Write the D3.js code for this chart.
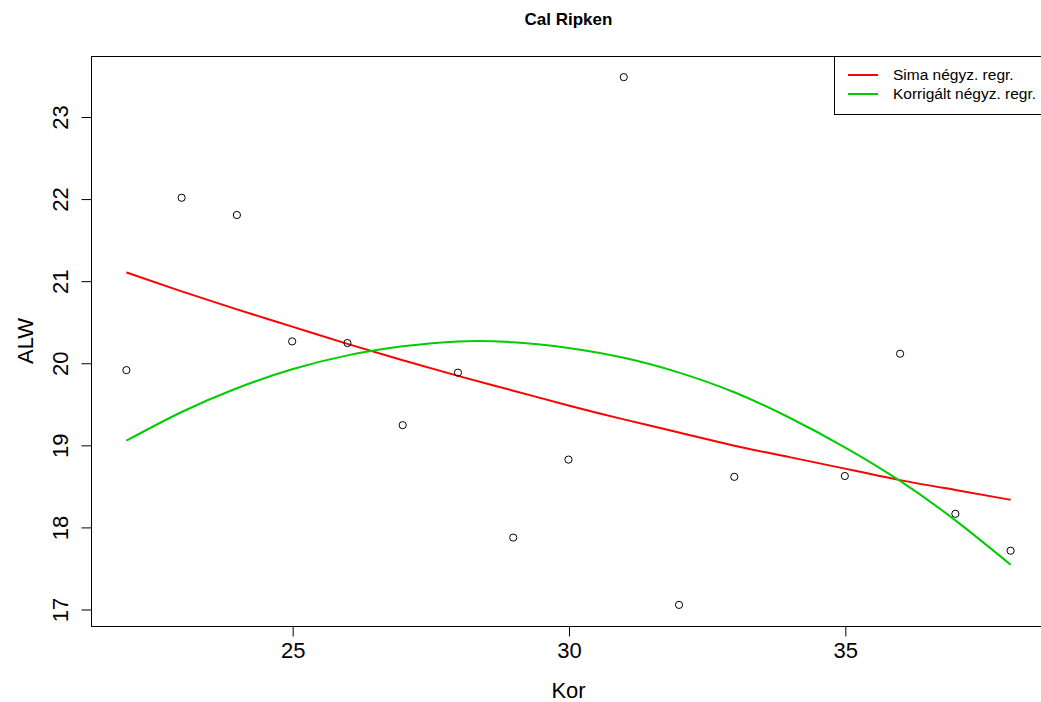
<!DOCTYPE html>
<html>
<head>
<meta charset="utf-8">
<script src="https://cdn.jsdelivr.net/npm/d3@7"></script>
<style>
  body { margin: 0; background: #fff; }
  text { font-family: "Liberation Sans", Arial, sans-serif; fill: #000; }
</style>
</head>
<body>
<div id="chart"></div>
<script>
// observed ages and ALW values
const ages = [22, 23, 24, 25, 26, 27, 28, 29, 30, 31, 32, 33, 35, 36, 37, 38];
const alw = [19.91, 22.01, 21.80, 20.26, 20.24, 19.24, 19.88, 17.87, 18.82, 23.48, 17.05, 18.61, 18.62, 20.11, 18.16, 17.71];

// fitted curves, read at each age
const fitAges = [22, 23, 24, 25, 26, 27, 28, 29, 30, 31, 32, 33, 34, 35, 36, 37, 38];
const simpleFit = [21.10, 20.87, 20.65, 20.44, 20.23, 20.03, 19.84, 19.66, 19.48, 19.31, 19.15, 18.99, 18.85, 18.71, 18.57, 18.45, 18.33];
const correctedFit = [19.05, 19.40, 19.69, 19.92, 20.09, 20.20, 20.26, 20.25, 20.18, 20.06, 19.88, 19.64, 19.33, 18.97, 18.56, 18.08, 17.54];

const xTicks = [25, 30, 35];
const yTicks = [17, 18, 19, 20, 21, 22, 23];
const legendLabels = ["Sima négyz. regr.", "Korrigált négyz. regr."];
const legendColors = ["#ff0000", "#00cd00"];

const width = 1041, height = 702;
const margin = {top: 56, left: 91, bottom: 76, right: -5};

const svg = d3.select('#chart').append('svg')
    .attr('width', width)
    .attr('height', height);

// R style 4% padding on each side
const pad = ext => {
  const d = (ext[1] - ext[0]) * 0.04;
  return [ext[0] - d, ext[1] + d];
};

const x = d3.scaleLinear()
    .domain(pad(d3.extent(ages)))
    .range([margin.left, width - margin.right]);
const y = d3.scaleLinear()
    .domain(pad(d3.extent(alw)))
    .range([height - margin.bottom, margin.top]);

// box
svg.append('rect')
    .attr('x', margin.left + 0.5)
    .attr('y', margin.top + 0.5)
    .attr('width', width - margin.right - margin.left)
    .attr('height', height - margin.bottom - margin.top)
    .attr('fill', 'none')
    .attr('stroke', '#000')
    .attr('stroke-width', 1);

// x axis
const xAxis = svg.append('g')
    .attr('transform', `translate(0.5,${height - margin.bottom + 0.5})`)
    .call(d3.axisBottom(x).tickValues(xTicks).tickSize(10).tickPadding(6).tickSizeOuter(0));
xAxis.select('.domain').remove();
xAxis.selectAll('text')
    .style('font-family', '"Liberation Sans", Arial, sans-serif')
    .style('font-size', '22px');

// y axis
const yAxis = svg.append('g')
    .attr('transform', `translate(${margin.left + 0.5},0.5)`)
    .call(d3.axisLeft(y).tickValues(yTicks).tickFormat(d3.format('d')).tickSize(10).tickSizeOuter(0));
yAxis.select('.domain').remove();
yAxis.selectAll('.tick text')
    .attr('x', null).attr('dy', null)
    .attr('text-anchor', 'middle')
    .attr('transform', 'translate(-31,0) rotate(-90)')
    .attr('dy', '0.35em')
    .style('font-family', '"Liberation Sans", Arial, sans-serif')
    .style('font-size', '22px');

// titles
svg.append('text')
    .attr('x', (margin.left + width - margin.right) / 2)
    .attr('y', 25)
    .attr('text-anchor', 'middle')
    .style('font-size', '17px')
    .style('font-weight', 'bold')
    .text('Cal Ripken');

svg.append('text')
    .attr('x', (margin.left + width - margin.right) / 2)
    .attr('y', 698)
    .attr('text-anchor', 'middle')
    .style('font-size', '22px')
    .text('Kor');

svg.append('text')
    .attr('transform', `translate(33,${(margin.top + height - margin.bottom) / 2}) rotate(-90)`)
    .attr('text-anchor', 'middle')
    .style('font-size', '22px')
    .text('ALW');

// fitted curves
const line = vals => d3.line()
    .x((d, i) => x(fitAges[i]))
    .y(d => y(d))
    .curve(d3.curveNatural)(vals);

svg.append('path')
    .attr('d', line(simpleFit))
    .attr('fill', 'none')
    .attr('stroke', legendColors[0])
    .attr('stroke-width', 2);

svg.append('path')
    .attr('d', line(correctedFit))
    .attr('fill', 'none')
    .attr('stroke', legendColors[1])
    .attr('stroke-width', 2);

// points
svg.selectAll('.pt')
    .data(ages)
  .join('circle')
    .attr('class', 'pt')
    .attr('cx', d => x(d))
    .attr('cy', (d, i) => y(alw[i]))
    .attr('r', 3.6)
    .attr('fill', 'none')
    .attr('stroke', '#000')
    .attr('stroke-width', 1);

// legend
const lg = svg.append('g');
lg.append('rect')
    .attr('x', 834.5)
    .attr('y', margin.top + 0.5)
    .attr('width', width - margin.right - 834)
    .attr('height', 58)
    .attr('fill', '#fff')
    .attr('stroke', '#000');

legendLabels.forEach((lab, i) => {
  const cy = 75 + i * 19;
  lg.append('line')
      .attr('x1', 848).attr('x2', 878)
      .attr('y1', cy).attr('y2', cy)
      .attr('stroke', legendColors[i])
      .attr('stroke-width', 2);
  lg.append('text')
      .attr('x', 893)
      .attr('y', cy)
      .attr('dy', '0.35em')
      .style('font-size', '15.5px')
      .text(lab);
});
</script>
</body>
</html>
